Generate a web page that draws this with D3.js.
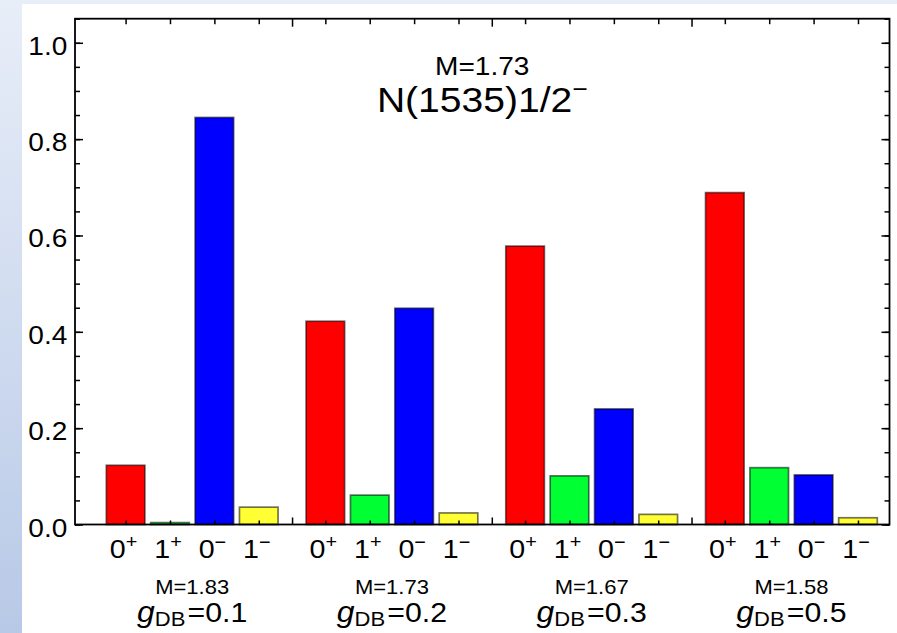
<!DOCTYPE html>
<html>
<head>
<meta charset="utf-8">
<style>
  body { margin: 0; background: #fff; }
  svg { display: block; }
  text { font-family: "Liberation Sans", Arial, sans-serif; fill: #000; }
</style>
</head>
<body>
<script src="https://d3js.org/d3.v7.min.js"></script>
<script>

var width = 897, height = 633;

// coupling groups and the mass printed under each one
var couplings = ["0.1", "0.2", "0.3", "0.5"];
var groupMass = ["1.83", "1.73", "1.67", "1.58"];

// the four states inside each group
var stateDigit = ["0", "1", "0", "1"];
var stateSign = ["+", "+", "\u2212", "\u2212"];
var colors = ["#ff0000", "#00ff33", "#0000ff", "#ffff33"];

// probabilities, one array per state, one value per coupling
var prob0p = [0.123, 0.422, 0.578, 0.689];
var prob1p = [0.004, 0.061, 0.101, 0.118];
var prob0m = [0.845, 0.449, 0.240, 0.103];
var prob1m = [0.036, 0.024, 0.021, 0.014];

var yTicks = [0, 0.2, 0.4, 0.6, 0.8, 1.0];
var yTickLabels = ["0.0", "0.2", "0.4", "0.6", "0.8", "1.0"];
var yMinor = d3.range(0, 1.051, 0.05);

var titleMass = "M=1.73";
var titleState = "N(1535)1/2";

var sx = 1.1; // text in the picture is a bit wide

var frame = {left: 75, right: 889.5, top: 18.7, bottom: 524.5};

var svg = d3.select("body").append("svg")
    .attr("width", width)
    .attr("height", height);

// slide background
var grad = svg.append("defs").append("linearGradient")
    .attr("id", "bg").attr("x1", 0).attr("y1", 0).attr("x2", 0).attr("y2", 1);
grad.append("stop").attr("offset", "0%").attr("stop-color", "#e8eef8");
grad.append("stop").attr("offset", "100%").attr("stop-color", "#b8c9e7");
svg.append("rect").attr("width", width).attr("height", height).attr("fill", "url(#bg)");
svg.append("rect").attr("x", 22).attr("y", 4).attr("width", width - 22).attr("height", height - 4).attr("fill", "#fff");

// slot = group*4.5 + state
var x = d3.scaleLinear().domain([-1.14, 17.21]).range([frame.left, frame.right]);
var y = d3.scaleLinear().domain([0, 1.05]).range([frame.bottom, frame.top]);

var series = [prob0p, prob1p, prob0m, prob1m];
var bars = [];
couplings.forEach(function(c, g) {
  series.forEach(function(s, k) {
    bars.push({slot: g * 4.5 + k, value: s[g], color: colors[k], k: k});
  });
});
var barSlots = bars.map(function(d) { return d.slot; });
var sepSlots = [3.75, 8.25, 12.75];
var bw = 0.87;

svg.append("g").selectAll("rect")
  .data(bars)
  .enter().append("rect")
  .attr("x", function(d) { return x(d.slot - bw / 2); })
  .attr("width", function(d) { return x(bw) - x(0); })
  .attr("y", function(d) { return y(d.value); })
  .attr("height", function(d) { return y(0) - y(d.value); })
  .attr("fill", function(d) { return d.color; })
  .attr("stroke", "rgba(0,0,0,0.55)")
  .attr("stroke-width", 1.7);

function cleanAxis(g) {
  g.select(".domain").remove();
  g.selectAll("line").attr("stroke", "#000").attr("stroke-width", 1.5);
}

// left axis
svg.append("g").attr("transform", "translate(" + frame.left + ",0)")
  .call(d3.axisLeft(y).tickValues(yMinor).tickSize(-5).tickFormat("")).call(cleanAxis);
var leftMajor = svg.append("g").attr("transform", "translate(" + frame.left + ",0)")
  .call(d3.axisLeft(y).tickValues(yTicks).tickSize(-8).tickPadding(7)
    .tickFormat(function(d, i) { return yTickLabels[i]; }))
  .call(cleanAxis);
leftMajor.selectAll("text")
  .attr("dy", 11.5)
  .attr("font-size", 25.5)
  .attr("font-family", "Liberation Sans, Arial, sans-serif")
  .attr("transform", "scale(" + sx + ",1)");

// right axis
svg.append("g").attr("transform", "translate(" + frame.right + ",0)")
  .call(d3.axisRight(y).tickValues(yMinor).tickSize(-5).tickFormat("")).call(cleanAxis);
svg.append("g").attr("transform", "translate(" + frame.right + ",0)")
  .call(d3.axisRight(y).tickValues(yTicks).tickSize(-8).tickFormat("")).call(cleanAxis);

// top axis
svg.append("g").attr("transform", "translate(0," + frame.top + ")")
  .call(d3.axisTop(x).tickValues(barSlots).tickSize(-5.5).tickFormat("")).call(cleanAxis);
svg.append("g").attr("transform", "translate(0," + frame.top + ")")
  .call(d3.axisTop(x).tickValues(sepSlots).tickSize(-8).tickFormat("")).call(cleanAxis);

// bottom axis
svg.append("g").attr("transform", "translate(0," + frame.bottom + ")")
  .call(d3.axisBottom(x).tickValues(barSlots).tickSize(-4).tickFormat("")).call(cleanAxis);
svg.append("g").attr("transform", "translate(0," + frame.bottom + ")")
  .call(d3.axisBottom(x).tickValues(sepSlots).tickSize(-7).tickFormat("")).call(cleanAxis);

// frame
svg.append("rect")
  .attr("x", frame.left).attr("y", frame.top)
  .attr("width", frame.right - frame.left).attr("height", frame.bottom - frame.top)
  .attr("fill", "none").attr("stroke", "#000").attr("stroke-width", 1.8);

// state labels under each bar
var lab = svg.append("g").selectAll("g")
  .data(bars)
  .enter().append("g")
  .attr("transform", function(d) { return "translate(" + (x(d.slot) - 2) + ",557.5) scale(" + sx + ",1)"; })
  .append("text")
  .attr("text-anchor", "middle")
  .attr("font-size", 26);
lab.append("tspan").text(function(d) { return stateDigit[d.k]; });
lab.append("tspan").attr("dy", -10).attr("font-size", 18)
  .text(function(d) { return stateSign[d.k]; });

// group labels
var grp = svg.append("g").selectAll("g")
  .data(couplings)
  .enter().append("g")
  .attr("transform", function(d, i) { return "translate(" + x(i * 4.5 + 1.5) + ",0)"; });

grp.append("text")
  .attr("transform", "translate(0,594) scale(" + sx + ",1)")
  .attr("text-anchor", "middle")
  .attr("font-size", 20)
  .text(function(d, i) { return "M=" + groupMass[i]; });

var gt = grp.append("text")
  .attr("transform", "translate(0,621.5) scale(" + sx + ",1)")
  .attr("text-anchor", "middle")
  .attr("font-size", 27.5);
gt.append("tspan").attr("font-style", "italic").attr("font-size", 29).text("g");
gt.append("tspan").attr("font-size", 20).attr("dy", 4).text("DB");
gt.append("tspan").attr("dy", -4).attr("dx", 2).text(function(d) { return "=" + d; });

// title
var cx = (frame.left + frame.right) / 2;
svg.append("text")
  .attr("transform", "translate(" + cx + ",74.5) scale(" + sx + ",1)")
  .attr("text-anchor", "middle")
  .attr("font-size", 25.5)
  .text(titleMass);

var tt = svg.append("text")
  .attr("transform", "translate(" + cx + ",111.5) scale(" + sx + ",1)")
  .attr("text-anchor", "middle")
  .attr("font-size", 35.5);
tt.append("tspan").text(titleState);
tt.append("tspan").attr("dy", -15).attr("font-size", 24).text("\u2212");

</script>
</body>
</html>
